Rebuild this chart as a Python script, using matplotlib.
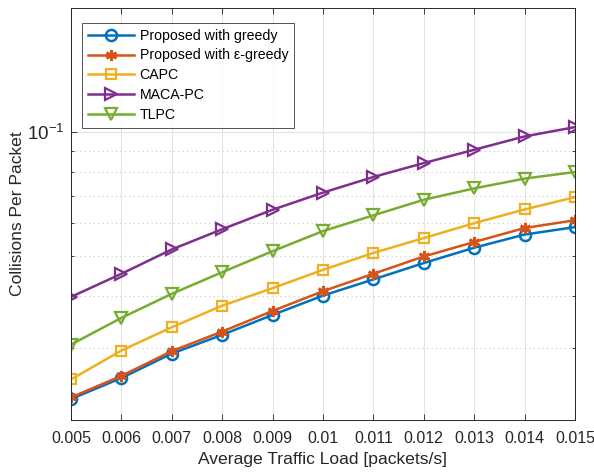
import numpy as np
import matplotlib
matplotlib.use('Agg')
from matplotlib import pyplot as plt
from matplotlib.ticker import FixedLocator, NullFormatter

plt.rcParams['font.family'] = ['Liberation Sans', 'DejaVu Sans']
plt.rcParams['mathtext.fontset'] = 'custom'
plt.rcParams['mathtext.rm'] = 'Liberation Sans'

# traffic load values (packets/s)
load = [0.005, 0.006, 0.007, 0.008, 0.009, 0.010, 0.011, 0.012, 0.013, 0.014, 0.015]
load_labels = ['0.005', '0.006', '0.007', '0.008', '0.009', '0.01',
               '0.011', '0.012', '0.013', '0.014', '0.015']

# collisions per packet for each scheme
greedy = [0.0225, 0.0253, 0.0290, 0.0322, 0.0360, 0.0401, 0.0439, 0.0481, 0.0524, 0.0564, 0.0588]
eps_greedy = [0.0227, 0.0256, 0.0294, 0.0328, 0.0368, 0.0411, 0.0453, 0.0499, 0.0541, 0.0585, 0.0611]
capc = [0.0251, 0.0295, 0.0336, 0.0379, 0.0418, 0.0463, 0.0509, 0.0553, 0.0601, 0.0649, 0.0695]
maca_pc = [0.0398, 0.0453, 0.0519, 0.0581, 0.0648, 0.0713, 0.0778, 0.0841, 0.0906, 0.0976, 0.1028]
tlpc = [0.0305, 0.0354, 0.0405, 0.0457, 0.0514, 0.0575, 0.0628, 0.0685, 0.0730, 0.0771, 0.0800]

names = ['Proposed with greedy', 'Proposed with \u03b5-greedy', 'CAPC', 'MACA-PC', 'TLPC']

fig = plt.figure(figsize=(5.94, 4.72), dpi=100)
ax = fig.add_axes([0.1195, 0.110, 0.8485, 0.873])

ax.plot(load, greedy, color='#0072BD', lw=1.8, marker='o', ms=8, mfc='none', mew=1.8, label=names[0])
ax.plot(load, eps_greedy, color='#D95319', lw=1.8, marker=(6, 2, 0), ms=8, mew=2.0, label=names[1])
ax.plot(load, capc, color='#EDB120', lw=1.8, marker='s', ms=7, mfc='none', mew=1.6, label=names[2])
ax.plot(load, maca_pc, color='#7E2F8E', lw=1.8, marker='>', ms=9, mfc='none', mew=1.6, label=names[3])
ax.plot(load, tlpc, color='#77AC30', lw=1.8, marker='v', ms=9, mfc='none', mew=1.6, label=names[4])

ax.set_yscale('log')
ax.set_xlim(0.005, 0.015)
ax.set_ylim(0.02, 0.2)
ax.set_xticks(load)
ax.set_xticklabels(load_labels)
ax.set_yticks([0.1])
ax.set_yticklabels(['$\\mathregular{10^{-1}}$'])
ax.yaxis.set_minor_locator(FixedLocator([0.03, 0.04, 0.05, 0.06, 0.07, 0.08, 0.09]))
ax.yaxis.set_minor_formatter(NullFormatter())

axis_col = '#262626'
ax.tick_params(which='both', direction='in', top=True, right=True, colors=axis_col, labelsize=11.5)
ax.tick_params(which='major', length=4, width=0.6)
ax.tick_params(which='minor', length=2.5, width=0.6)
ax.tick_params(axis='x', which='major', pad=8)
ax.tick_params(axis='y', which='major', labelsize=13.5, pad=5)
for s in ax.spines.values():
    s.set_color(axis_col)
    s.set_linewidth(0.7)

ax.grid(True, which='major', color='#e3e3e3', lw=0.8)
ax.grid(True, which='minor', axis='y', color='#c8c8c8', lw=0.8, ls=(0, (1, 3)))
ax.set_axisbelow(True)

ax.set_xlabel('Average Traffic Load [packets/s]', fontsize=12.6, color=axis_col, labelpad=4)
ax.set_ylabel('Collisions Per Packet', fontsize=12.6, color=axis_col, labelpad=1)

leg = ax.legend(loc='upper left', bbox_to_anchor=(0.022, 0.964), borderaxespad=0,
                fontsize=10.2, frameon=True, fancybox=False, edgecolor=axis_col,
                handlelength=3.25, borderpad=0.4, labelspacing=0.42, handletextpad=0.42)
leg.get_frame().set_linewidth(0.7)

fig.savefig('out.png', dpi=100)
